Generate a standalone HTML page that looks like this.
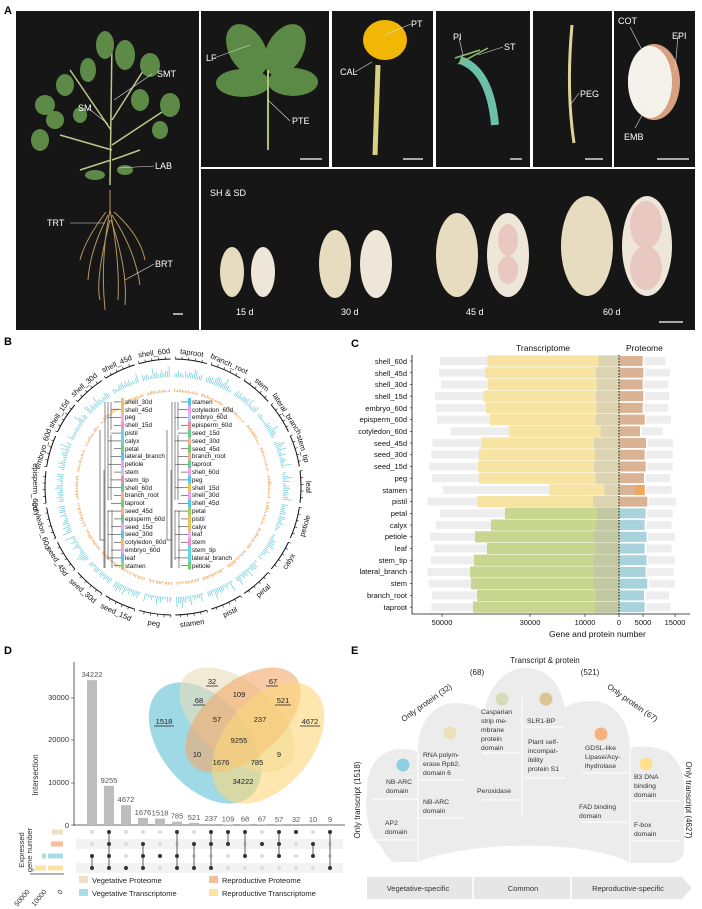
<!DOCTYPE html>
<html><head><meta charset="utf-8"><style>
html,body{margin:0;padding:0;background:#fff}
svg{display:block;font-family:"Liberation Sans",sans-serif}
</style></head><body>
<svg id="s" width="702" height="909" viewBox="0 0 702 909" xmlns="http://www.w3.org/2000/svg">
<!-- Panel letters -->
<g font-weight="bold" font-size="11" fill="#000">
<text x="4" y="14">A</text><text x="4" y="345">B</text><text x="351" y="347">C</text>
<text x="4" y="654">D</text><text x="351" y="654">E</text></g>

<!-- Panel A photos -->
<g fill="#161616">
<rect x="16" y="11" width="183" height="319"/>
<rect x="201" y="11" width="128" height="156"/>
<rect x="332" y="11" width="101" height="156"/>
<rect x="436" y="11" width="94" height="156"/>
<rect x="533" y="11" width="79" height="156"/>
<rect x="614" y="11" width="81" height="156"/>
<rect x="201" y="169" width="494" height="161"/>
</g>
<!-- plant -->
<g stroke="#b9c98a" stroke-width="1.5" fill="none">
<path d="M110 185 L112 40"/><path d="M111 130 L70 70"/><path d="M112 120 L150 60"/><path d="M112 150 L60 135"/><path d="M112 145 L165 110"/><path d="M111 160 L80 170"/><path d="M112 160 L140 150"/>
</g>
<g fill="#5e8a48">
<ellipse cx="105" cy="45" rx="9" ry="14"/><ellipse cx="125" cy="55" rx="10" ry="15"/><ellipse cx="88" cy="70" rx="8" ry="12"/>
<ellipse cx="65" cy="85" rx="9" ry="11"/><ellipse cx="150" cy="65" rx="10" ry="12"/><ellipse cx="170" cy="105" rx="10" ry="12"/>
<ellipse cx="45" cy="105" rx="10" ry="10"/><ellipse cx="40" cy="140" rx="9" ry="11"/><ellipse cx="55" cy="120" rx="9" ry="9"/>
<ellipse cx="140" cy="100" rx="9" ry="11"/><ellipse cx="160" cy="130" rx="8" ry="9"/><ellipse cx="80" cy="115" rx="7" ry="8"/>
<ellipse cx="95" cy="175" rx="10" ry="5"/><ellipse cx="125" cy="170" rx="8" ry="5"/>
</g>
<g stroke="#b8975e" stroke-width="1" fill="none">
<path d="M110 190 L110 210"/><path d="M110 210 Q100 260 105 310"/><path d="M110 210 Q120 260 118 300"/><path d="M108 215 Q90 250 88 280"/><path d="M112 215 Q135 250 140 285"/><path d="M110 220 Q95 280 100 300"/><path d="M111 220 Q128 270 125 305"/><path d="M106 212 Q85 240 80 260"/><path d="M114 212 Q140 235 145 260"/>
</g>
<!-- leaf photo -->
<g fill="#5a8a45"><ellipse cx="247" cy="50" rx="18" ry="28" transform="rotate(-30 247 50)"/><ellipse cx="285" cy="50" rx="18" ry="28" transform="rotate(30 285 50)"/><ellipse cx="243" cy="83" rx="27" ry="14"/><ellipse cx="293" cy="82" rx="25" ry="14"/></g>
<path d="M268 70 L268 150" stroke="#a9c470" stroke-width="2"/>
<!-- flower -->
<ellipse cx="385" cy="40" rx="22" ry="20" fill="#f2b705"/><path d="M378 65 L375 155" stroke="#d9d080" stroke-width="5"/>
<!-- pistil -->
<path d="M460 60 Q490 70 495 125" stroke="#6cc0a8" stroke-width="8" fill="none"/><path d="M455 58 L480 50 M458 64 L488 48" stroke="#8fc06a" stroke-width="1.5"/>
<!-- peg -->
<path d="M572 25 Q566 90 574 143" stroke="#e0d39a" stroke-width="3" fill="none"/>
<!-- seed -->
<ellipse cx="654" cy="82" rx="26" ry="38" fill="#d8a080"/><ellipse cx="650" cy="82" rx="22" ry="36" fill="#f4f2ea"/>
<!-- scale bars -->
<g stroke="#fff" stroke-width="1.2"><path d="M173 314h10M300 159h22M403 159h20M510 159h12M585 159h18M657 159h32M659 322h24"/></g>
<!-- peanuts -->
<g fill="#e8dcc0"><ellipse cx="232" cy="272" rx="12" ry="25"/><ellipse cx="335" cy="264" rx="16" ry="34"/><ellipse cx="457" cy="255" rx="21" ry="42"/><ellipse cx="587" cy="246" rx="26" ry="50"/></g>
<g fill="#efe6da"><ellipse cx="263" cy="272" rx="12" ry="25"/><ellipse cx="376" cy="264" rx="16" ry="34"/><ellipse cx="508" cy="255" rx="21" ry="42"/><ellipse cx="647" cy="246" rx="25" ry="50"/></g>
<g fill="#e8c8c0"><ellipse cx="508" cy="240" rx="10" ry="16"/><ellipse cx="508" cy="270" rx="10" ry="14"/><ellipse cx="646" cy="225" rx="16" ry="24"/><ellipse cx="646" cy="268" rx="16" ry="22"/></g>
<g fill="#fff" font-size="9">
<text x="157" y="77">SMT</text><text x="78" y="111">SM</text><text x="155" y="169">LAB</text><text x="47" y="226">TRT</text><text x="155" y="267">BRT</text>
<text x="206" y="61">LF</text><text x="292" y="124">PTE</text><text x="411" y="27">PT</text><text x="340" y="75">CAL</text>
<text x="453" y="40">PI</text><text x="504" y="50">ST</text><text x="580" y="97">PEG</text><text x="618" y="24">COT</text><text x="672" y="39">EPI</text><text x="624" y="140">EMB</text>
<text x="210" y="196">SH &amp; SD</text><text x="236" y="315">15 d</text><text x="341" y="315">30 d</text><text x="466" y="315">45 d</text><text x="603" y="315">60 d</text>
</g>
<g stroke="#ddd" stroke-width="0.6"><path d="M152 74 L114 100 M88 108 L108 124 M154 166 L118 168 M70 223 L105 223 M154 264 L125 280 M214 58 L250 45 M290 121 L268 100 M411 24 L385 35 M355 72 L372 62 M459 38 L463 55 M503 47 L478 55 M579 93 L571 104 M630 27 L642 50 M678 36 L675 70 M635 128 L645 110"/></g>

<!-- Panel B -->
<g id="B"></g>
<g font-size="7.5" fill="#111" text-anchor="middle">
<text x="173" y="354" transform="rotate(8 173 487)">taproot</text>
<text x="173" y="354" transform="rotate(24.5 173 487)">branch_root</text>
<text x="173" y="354" transform="rotate(41 173 487)">stem</text>
<text x="173" y="354" transform="rotate(57.3 173 487)">lateral_branch</text>
<text x="173" y="354" transform="rotate(73.6 173 487)">stem_tip</text>
<text x="173" y="354" transform="rotate(90 173 487)">leaf</text>
<text x="173" y="627" transform="rotate(-73.6 173 487)">petiole</text>
<text x="173" y="627" transform="rotate(-57.3 173 487)">calyx</text>
<text x="173" y="627" transform="rotate(-41 173 487)">petal</text>
<text x="173" y="627" transform="rotate(-24.5 173 487)">pistil</text>
<text x="173" y="627" transform="rotate(-8 173 487)">stamen</text>
<text x="173" y="627" transform="rotate(8 173 487)">peg</text>
<text x="173" y="627" transform="rotate(24.5 173 487)">seed_15d</text>
<text x="173" y="627" transform="rotate(41 173 487)">seed_30d</text>
<text x="173" y="627" transform="rotate(57.3 173 487)">seed_45d</text>
<text x="173" y="627" transform="rotate(73.6 173 487)">cotyledon_60d</text>
<text x="173" y="627" transform="rotate(90 173 487)">episperm_60d</text>
<text x="173" y="354" transform="rotate(-73.6 173 487)">embryo_60d</text>
<text x="173" y="354" transform="rotate(-57.3 173 487)">shell_15d</text>
<text x="173" y="354" transform="rotate(-41 173 487)">shell_30d</text>
<text x="173" y="354" transform="rotate(-24.5 173 487)">shell_45d</text>
<text x="173" y="354" transform="rotate(-8 173 487)">shell_60d</text>
</g>
<g id="dend" stroke="#555" stroke-width="0.7" fill="none"></g>
<g font-size="6.3" fill="#111">
<g id="Lt"><text x="125" y="404">shell_30d</text><text x="125" y="412">shell_45d</text><text x="125" y="419">peg</text><text x="125" y="427">shell_15d</text><text x="125" y="435">pistil</text><text x="125" y="443">calyx</text><text x="125" y="451">petal</text><text x="125" y="458">lateral_branch</text><text x="125" y="466">petiole</text><text x="125" y="474">stem</text><text x="125" y="482">stem_tip</text><text x="125" y="490">shell_60d</text><text x="125" y="497">branch_root</text><text x="125" y="505">taproot</text><text x="125" y="513">seed_45d</text><text x="125" y="521">episperm_60d</text><text x="125" y="529">seed_15d</text><text x="125" y="536">seed_30d</text><text x="125" y="544">cotyledon_60d</text><text x="125" y="552">embryo_60d</text><text x="125" y="560">leaf</text><text x="125" y="568">stamen</text></g>
<g><text x="192" y="404">stamen</text><text x="192" y="412">cotyledon_60d</text><text x="192" y="419">embryo_60d</text><text x="192" y="427">episperm_60d</text><text x="192" y="435">seed_15d</text><text x="192" y="443">seed_30d</text><text x="192" y="451">seed_45d</text><text x="192" y="458">branch_root</text><text x="192" y="466">taproot</text><text x="192" y="474">shell_60d</text><text x="192" y="482">peg</text><text x="192" y="490">shell_15d</text><text x="192" y="497">shell_30d</text><text x="192" y="505">shell_45d</text><text x="192" y="513">petal</text><text x="192" y="521">pistil</text><text x="192" y="529">calyx</text><text x="192" y="536">leaf</text><text x="192" y="544">stem</text><text x="192" y="552">stem_tip</text><text x="192" y="560">lateral_branch</text><text x="192" y="568">petiole</text></g>
</g>

<!-- Panel C -->
<g id="C"></g>
<g font-size="8.5" fill="#111">
<text x="516" y="351">Transcriptome</text><text x="626" y="351">Proteome</text>
<text x="549" y="637">Gene and protein number</text>
</g>
<g font-size="7.5" fill="#111" text-anchor="middle"><text x="442" y="625">50000</text><text x="530" y="625">30000</text><text x="585" y="625">10000</text><text x="619" y="625">0</text><text x="643" y="625">5000</text><text x="675" y="625">15000</text></g>
<g id="Cl" font-size="7.5" fill="#111" text-anchor="end">
<text x="407" y="364">shell_60d</text><text x="407" y="376">shell_45d</text><text x="407" y="387">shell_30d</text><text x="407" y="399">shell_15d</text><text x="407" y="411">embryo_60d</text><text x="407" y="422">episperm_60d</text><text x="407" y="434">cotyledon_60d</text><text x="407" y="446">seed_45d</text><text x="407" y="457">seed_30d</text><text x="407" y="469">seed_15d</text><text x="407" y="481">peg</text><text x="407" y="493">stamen</text><text x="407" y="504">pistil</text><text x="407" y="516">petal</text><text x="407" y="528">calyx</text><text x="407" y="539">petiole</text><text x="407" y="551">leaf</text><text x="407" y="563">stem_tip</text><text x="407" y="574">lateral_branch</text><text x="407" y="586">stem</text><text x="407" y="598">branch_root</text><text x="407" y="610">taproot</text>
</g>

<!-- Panel D -->
<g id="D"></g>
<g fill-opacity="0.6">
<ellipse cx="205" cy="743" rx="44" ry="70" transform="rotate(-40 205 743)" fill="#5fc0d3"/>
<ellipse cx="237" cy="720" rx="38" ry="68" transform="rotate(-50 237 720)" fill="#e8dcb8"/>
<ellipse cx="243" cy="720" rx="38" ry="68" transform="rotate(50 243 720)" fill="#f2a86a"/>
<ellipse cx="268" cy="743" rx="44" ry="70" transform="rotate(40 268 743)" fill="#fcd77a"/>
</g>
<g font-size="7.5" fill="#222" text-anchor="middle">
<text x="212" y="684">32</text><text x="239" y="697">109</text><text x="273" y="684">67</text><text x="199" y="703">68</text><text x="283" y="703">521</text>
<text x="164" y="724">1518</text><text x="217" y="722">57</text><text x="260" y="722">237</text><text x="310" y="724">4672</text><text x="239" y="743">9255</text>
<text x="197" y="757">10</text><text x="279" y="757">9</text><text x="221" y="765">1676</text><text x="257" y="765">785</text><text x="243" y="784">34222</text>
</g>
<g stroke="#222" stroke-width="0.8"><path d="M206 686h12M266 686h12M193 705h12M275 705h16M154 726h20M300 726h20"/></g>
<g font-size="7.5" fill="#333">
<text x="69" y="700" text-anchor="end">30000</text><text x="69" y="742" text-anchor="end">20000</text><text x="69" y="785" text-anchor="end">10000</text><text x="69" y="828" text-anchor="end">0</text>
<text transform="translate(38 775) rotate(-90)" text-anchor="middle" font-size="8">Intersection</text>
<text transform="translate(24 850) rotate(-90)" text-anchor="middle" font-size="7.5">Expressed</text>
<text transform="translate(32 850) rotate(-90)" text-anchor="middle" font-size="7.5">gene number</text>
<text transform="translate(30 892) rotate(-50)" text-anchor="end" font-size="7">50000</text>
<text transform="translate(47 892) rotate(-50)" text-anchor="end" font-size="7">10000</text>
<text transform="translate(63 892) rotate(-50)" text-anchor="end" font-size="7">0</text>
</g>
<g font-size="7.5" fill="#222">
<rect x="79" y="876" width="9" height="7" fill="#ebe1c4"/><text x="92" y="883">Vegetative Proteome</text>
<rect x="209" y="876" width="9" height="7" fill="#f6be96"/><text x="222" y="883">Reproductive Proteome</text>
<rect x="79" y="889" width="9" height="7" fill="#a9dce6"/><text x="92" y="896">Vegetative Transcriptome</text>
<rect x="209" y="889" width="9" height="7" fill="#fde2a0"/><text x="222" y="896">Reproductive Transcriptome</text>
</g>

<!-- Panel E -->
<path d="M380 845 C365 835 365 800 367 790 C367 765 380 750 400 749 C410 749 416 751 418 752 C418 720 435 703 455 703 C470 703 478 707 484 712 C490 680 510 668 525 668 C545 668 560 680 565 708 C572 703 580 701 590 701 C612 701 628 715 630 748 C640 745 655 746 668 752 C680 760 684 775 684 790 L684 850 C684 858 678 863 668 863 L630 863 C590 840 470 840 418 862 L395 862 C388 860 383 850 380 845 Z" fill="#ececec"/>
<g stroke="#fff" stroke-width="1"><path d="M418 752V862M522 697V817M630 748V863M372 799H418M372 840H418M418 780H465M418 818H465M482 753H520M482 800H520M524 727H565M524 778H565M582 773H628M582 822H628M632 801H680M632 841H680"/></g>
<circle cx="403" cy="765" r="6.5" fill="#8fd0e0"/><circle cx="450" cy="733" r="6.5" fill="#ece0b8"/><circle cx="502" cy="699" r="6.5" fill="#d6dcb8"/><circle cx="546" cy="699" r="6.5" fill="#dcc490"/><circle cx="601" cy="734" r="6.5" fill="#f6b27c"/><circle cx="646" cy="764" r="6.5" fill="#fde08e"/>
<g font-size="6.8" fill="#333">
<text x="386" y="784">NB-ARC</text><text x="386" y="793">domain</text>
<text x="385" y="825">AP2</text><text x="385" y="834">domain</text>
<text x="423" y="757">RNA polym-</text><text x="423" y="766">erase Rpb2,</text><text x="423" y="775">domain 6</text>
<text x="423" y="804">NB-ARC</text><text x="423" y="813">domain</text>
<text x="481" y="714">Casparian</text><text x="481" y="723">strip me-</text><text x="481" y="732">mbrane</text><text x="481" y="741">protein</text><text x="481" y="750">domain</text>
<text x="477" y="793">Peroxidase</text>
<text x="527" y="723">SLR1-BP</text>
<text x="528" y="744">Plant self-</text><text x="528" y="753">incompat-</text><text x="528" y="762">ibility</text><text x="528" y="771">protein S1</text>
<text x="585" y="750">GDSL-like</text><text x="585" y="759">Lipase/Acy-</text><text x="585" y="768">lhydrolase</text>
<text x="579" y="809">FAD binding</text><text x="579" y="818">domain</text>
<text x="634" y="779">B3 DNA</text><text x="634" y="788">binding</text><text x="634" y="797">domain</text>
<text x="634" y="827">F-box</text><text x="634" y="836">domain</text>
</g>
<g font-size="8" fill="#222">
<text x="545" y="663" text-anchor="middle">Transcript &amp; protein</text>
<text x="477" y="675" text-anchor="middle">(68)</text><text x="590" y="675" text-anchor="middle">(521)</text>
<text transform="translate(428 705) rotate(-35)" text-anchor="middle">Only protein (32)</text>
<text transform="translate(631 705) rotate(35)" text-anchor="middle">Only protein (67)</text>
<text transform="translate(360 800) rotate(-90)" text-anchor="middle">Only transcript (1518)</text>
<text transform="translate(686 800) rotate(90)" text-anchor="middle">Only transcript (4627)</text>
</g>
<path d="M367 877 H682 L692 888 L682 899 H367 Z" fill="#e6e6e6"/>
<g stroke="#fff" stroke-width="1.5"><path d="M473 877V899M571 877V899"/></g>
<g font-size="7.5" fill="#333" text-anchor="middle"><text x="418" y="891">Vegetative-specific</text><text x="523" y="891">Common</text><text x="628" y="891">Reproductive-specific</text></g>

<script>
var NS="http://www.w3.org/2000/svg";
function el(p,t,a){var e=document.createElementNS(NS,t);for(var k in a)e.setAttribute(k,a[k]);p.appendChild(e);return e;}
// Panel B rings
var B=document.getElementById("B"),cx=173,cy=487;
function pt(r,a){var t=(a-90)*Math.PI/180;return[cx+r*Math.cos(t),cy+r*Math.sin(t)];}
var seed=3;function rnd(){seed=(seed*9301+49297)%233280;return seed/233280;}
for(var i=0;i<22;i++){var a0=i*16.36+1,a1=(i+1)*16.36-1;
 var p0=pt(128,a0),p1=pt(128,a1);
 el(B,"path",{d:"M"+p0+" A128 128 0 0 1 "+p1,stroke:"#111","stroke-width":"1",fill:"none"});
 for(var a=a0;a<=a1;a+=3){var q0=pt(128,a),q1=pt(130.5,a);el(B,"line",{x1:q0[0],y1:q0[1],x2:q1[0],y2:q1[1],stroke:"#111","stroke-width":"0.6"});}
 for(var a=a0;a<=a1;a+=0.9){var h=2+rnd()*5+(rnd()<0.1?5:0);var q0=pt(110,a),q1=pt(110+h,a);el(B,"line",{x1:q0[0],y1:q0[1],x2:q1[0],y2:q1[1],stroke:"#6ccbdc","stroke-width":"0.7"});
  var g=1+rnd()*2.5;var o0=pt(95,a),o1=pt(95+g,a);el(B,"line",{x1:o0[0],y1:o0[1],x2:o1[0],y2:o1[1],stroke:"#f0a050","stroke-width":"0.7"});}
}
// dendrogram strips & lines
var cols=["#e6c45a","#e6c45a","#f0b0f0","#f090d0","#5ad8e8","#5ad8e8","#70d070","#50c8f0","#f0a0f0","#c0c8f0","#f08aa0","#60d090","#f0b090","#70d070","#f0b090","#60d090","#f0a0f0","#50c8f0","#e6c45a","#f0a0f0","#50c8f0","#a0d060"];
var D=document.getElementById("dend");
for(var i=0;i<22;i++){var y=398+i*7.8;el(B,"rect",{x:121,y:y,width:3,height:7.8,fill:cols[i]});el(B,"rect",{x:188,y:y,width:3,height:7.8,fill:cols[(i+7)%22]});
 el(D,"path",{d:"M121 "+(y+3.9)+"H"+(114-(i%3)*3)});el(D,"path",{d:"M188 "+(y+3.9)+"H"+(181-(i%3)*3)});}
[[105,402,568],[108,402,500],[111,402,430],[111,435,500],[112,510,568],[108,510,560],[104,470,568]].forEach(function(v){el(D,"path",{d:"M"+v[0]+" "+v[1]+"V"+v[2]});el(D,"path",{d:"M"+(v[0]+67)+" "+v[1]+"V"+v[2]});});
el(D,"path",{d:"M100 430V540H105M167 430V540H172"});
// Panel C
var C=document.getElementById("C");
var R=[[270,412,745,878,947],[267,405,738,880,960],[273,414,741,878,955],[255,400,738,880,958],[258,408,740,878,955],[261,420,737,884,963],[302,477,752,870,938],[247,393,732,888,970],[244,387,735,884,968],[237,384,732,887,968],[246,387,737,882,960],[279,597,763,884,965],[233,381,729,892,978],[270,465,741,887,968],[258,423,739,884,965],[240,375,730,890,975],[253,411,737,884,965],[243,372,730,890,975],[233,360,731,887,970],[236,363,729,892,975],[246,381,738,882,957],[244,369,735,884,962]];
var z=619;
R.forEach(function(r,i){var y=361+i*11.72;var v=i<13;function X(q){return 350+q/3;}
 el(C,"rect",{x:X(r[0]),y:y-4,width:z-X(r[0]),height:8,fill:"#ededed"});
 el(C,"rect",{x:X(r[1]),y:y-5.6,width:z-X(r[1]),height:11.2,fill:v?"#f7e4a2":"#c9d68f"});
 el(C,"rect",{x:X(r[2]),y:y-5.6,width:z-X(r[2]),height:11.2,fill:v?"#dbd3b2":"#c3c8a4"});
 el(C,"rect",{x:X(r[3])+1.5,y:y-4,width:X(r[4])-X(r[3])-1.5,height:8,fill:"#ededed"});
 el(C,"rect",{x:z,y:y-5,width:X(r[3])-z,height:10,fill:v?"#d9b393":"#a8d3dd"});
 if(i==11)el(C,"rect",{x:X(855),y:y-5,width:X(884)-X(855),height:10,fill:"#f0a858"});
 el(C,"line",{x1:410,y1:y,x2:412,y2:y,stroke:"#111","stroke-width":"0.6"});
});
el(C,"line",{x1:412,y1:355,x2:412,y2:614,stroke:"#111","stroke-width":"0.8"});
el(C,"line",{x1:412,y1:614,x2:690,y2:614,stroke:"#111","stroke-width":"0.8"});
el(C,"line",{x1:z,y1:355,x2:z,y2:614,stroke:"#111","stroke-width":"1","stroke-dasharray":"1.5,1.5"});
[442,530,585,619,643,675].forEach(function(x){el(C,"line",{x1:x,y1:614,x2:x,y2:617,stroke:"#111","stroke-width":"0.6"});});
// Panel D upset
var Dg=document.getElementById("D");
var vals=[34222,9255,4672,1676,1518,785,521,237,109,68,67,57,32,10,9];
var sets=[[2,3],[0,1,2,3],[3],[1,2,3],[2],[0,2,3],[1,3],[0,1,3],[0,1],[0,2],[1],[0,1,2],[0],[1,2],[0,3]];
el(Dg,"rect",{x:76,y:839,width:267,height:10,fill:"#f3f3f3"});el(Dg,"rect",{x:76,y:863,width:267,height:10,fill:"#f3f3f3"});
el(Dg,"line",{x1:74,y1:662,x2:74,y2:826,stroke:"#333","stroke-width":"0.8"});
el(Dg,"line",{x1:74,y1:825,x2:345,y2:825,stroke:"#333","stroke-width":"0.8"});
[698,740,783,825].forEach(function(y){el(Dg,"line",{x1:71,y1:y,x2:74,y2:y,stroke:"#333","stroke-width":"0.6"});});
vals.forEach(function(v,i){var x=92+i*17;var h=v*127/30000;el(Dg,"rect",{x:x-5,y:825-h,width:10,height:h,fill:"#bdbdbd"});
 var t=el(Dg,"text",{x:x,y:822-h,"font-size":"7.5","text-anchor":"middle",fill:"#555"});t.textContent=v;
 var s=sets[i];for(var k=0;k<4;k++){el(Dg,"circle",{cx:x,cy:832+k*12,r:2,fill:s.indexOf(k)>=0?"#333":"#ddd"});}
 if(s.length>1)el(Dg,"line",{x1:x,y1:832+s[0]*12,x2:x,y2:832+s[s.length-1]*12,stroke:"#333","stroke-width":"0.8"});
});
[[52,832,"#ebe1c4"],[51,844,"#f6be96"],[48,856,"#a9dce6"],[48,868,"#fde2a0"]].forEach(function(b){el(Dg,"rect",{x:b[0],y:b[1]-2.5,width:63-b[0],height:5,fill:b[2]});});
el(Dg,"rect",{x:42,y:853.5,width:4,height:5,fill:"#a9dce6"});el(Dg,"rect",{x:35,y:865.5,width:11,height:5,fill:"#fde2a0"});
el(Dg,"line",{x1:30,y1:874,x2:64,y2:874,stroke:"#333","stroke-width":"0.7"});
</script>
</svg>
</body></html>
